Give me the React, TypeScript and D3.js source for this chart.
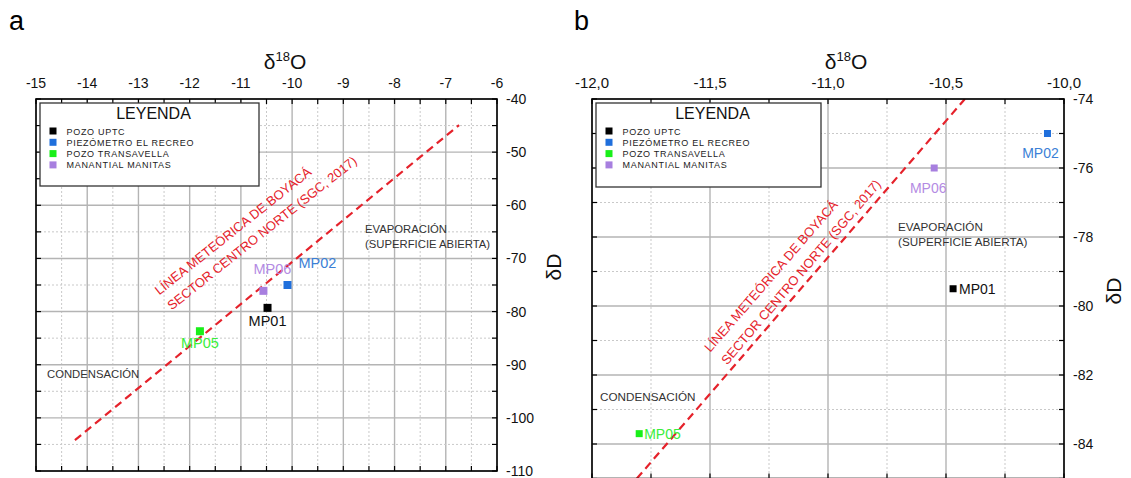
import React from "react";
import * as d3 from "d3";

// ---------- data ----------
const legendNames = ["POZO UPTC", "PIEZÓMETRO EL RECREO", "POZO TRANSAVELLA", "MANANTIAL MANITAS"];
const sampleIds = ["MP01", "MP02", "MP05", "MP06"];
const seriesColors = ["#000000", "#1f6fdc", "#19ef19", "#a77fdf"];
const sampleLegendIndex = [0, 1, 2, 3];

const panelA_d18O = [-10.48, -10.09, -11.8, -10.56];
const panelA_dD = [-79.3, -75.0, -83.7, -76.1];
const panelB_d18O = [-10.47, -10.07, -11.8, -10.55];
const panelB_dD = [-79.5, -75.0, -83.7, -76.0];

const panelA_xTicks = [-15, -14, -13, -12, -11, -10, -9, -8, -7, -6];
const panelA_yTicks = [-40, -50, -60, -70, -80, -90, -100, -110];
const panelB_xTicks = [-12, -11.5, -11, -10.5, -10];
const panelB_yTicks = [-74, -76, -78, -80, -82, -84];

const meteoricA_d18O = [-14.24, -6.74];
const meteoricA_dD = [-104.2, -44.9];
const meteoricB_d18O = [-11.81, -10.42];
const meteoricB_dD = [-85.0, -74.0];

const lineText1 = "LÍNEA METEÓRICA DE BOYACÁ";
const lineText2 = "SECTOR CENTRO NORTE (SGC, 2017)";

const FONT = "'Liberation Sans', Arial, Helvetica, sans-serif";
const RED = "#e5222b";

type Off = { dx: number; dy: number; anchor: string; color: string };

type PanelCfg = {
  id: string;
  letter: string;
  letterX: number;
  left: number; right: number; top: number; bottom: number;
  xDomain: [number, number]; yDomain: [number, number];
  xTicks: number[]; yTicks: number[];
  xMajor: number; xMinor: number; yMajor: number; yMinor: number;
  xFmt: (v: number) => string;
  xTickFont: number; yTickFont: number;
  d18O: number[]; dD: number[];
  mlX: number[]; mlY: number[];
  offsets: Off[];
  sampleFont: number;
  sqSize: number;
  legend: { x: number; y: number; w: number; h: number };
  titleX: number;
  dDx: number; dDy: number;
  t1: { x: number; y: number; a: number };
  t2: { x: number; y: number; a: number };
  evap: { x: number; y: number; fs: number };
  cond: { x: number; y: number; fs: number };
};

const commaFmt = (v: number) => d3.format(".1f")(v).replace(".", ",").replace("−", "-");
const intFmt = (v: number) => String(v);

const panels: PanelCfg[] = [
  {
    id: "a", letter: "a", letterX: 9,
    left: 36, right: 497, top: 99, bottom: 471,
    xDomain: [-15, -6], yDomain: [-40, -110],
    xTicks: panelA_xTicks, yTicks: panelA_yTicks,
    xMajor: 1, xMinor: 0.5, yMajor: 10, yMinor: 5,
    xFmt: intFmt, xTickFont: 14, yTickFont: 14,
    d18O: panelA_d18O, dD: panelA_dD,
    mlX: meteoricA_d18O, mlY: meteoricA_dD,
    offsets: [
      { dx: 0, dy: 18, anchor: "middle", color: "#111" },
      { dx: 11, dy: -17, anchor: "start", color: "#3b7fd6" },
      { dx: 0, dy: 17, anchor: "middle", color: "#3aee3a" },
      { dx: 9, dy: -17, anchor: "middle", color: "#b48be3" },
    ],
    sampleFont: 14.5, sqSize: 8,
    legend: { x: 40, y: 103, w: 219, h: 83 },
    titleX: 285, dDx: 553, dDy: 267,
    t1: { x: 233, y: 231, a: -38.5 },
    t2: { x: 262, y: 233, a: -38.5 },
    evap: { x: 365, y: 233, fs: 11.3 },
    cond: { x: 47, y: 378, fs: 11.3 },
  },
  {
    id: "b", letter: "b", letterX: 574,
    left: 592, right: 1064, top: 99, bottom: 478.5,
    xDomain: [-12, -10], yDomain: [-74, -85],
    xTicks: panelB_xTicks, yTicks: panelB_yTicks,
    xMajor: 0.5, xMinor: 0.25, yMajor: 2, yMinor: 1,
    xFmt: commaFmt, xTickFont: 15, yTickFont: 14,
    d18O: panelB_d18O, dD: panelB_dD,
    mlX: meteoricB_d18O, mlY: meteoricB_dD,
    offsets: [
      { dx: 6, dy: 5, anchor: "start", color: "#111" },
      { dx: -7, dy: 24, anchor: "middle", color: "#3b7fd6" },
      { dx: 5, dy: 5, anchor: "start", color: "#3aee3a" },
      { dx: -6, dy: 25, anchor: "middle", color: "#b48be3" },
    ],
    sampleFont: 14, sqSize: 7,
    legend: { x: 596, y: 103, w: 225, h: 84 },
    titleX: 846, dDx: 1113, dDy: 291,
    t1: { x: 771, y: 276, a: -49 },
    t2: { x: 801, y: 272, a: -49.5 },
    evap: { x: 898, y: 231, fs: 11.7 },
    cond: { x: 600, y: 401, fs: 11.7 },
  },
];

function rangeSteps(a: number, b: number, step: number) {
  const lo = Math.min(a, b), hi = Math.max(a, b);
  const n = Math.round((hi - lo) / step);
  return d3.range(n + 1).map((i) => +(lo + i * step).toFixed(4));
}

function Panel({ c }: { c: PanelCfg }) {
  const x = d3.scaleLinear().domain(c.xDomain).range([c.left, c.right]);
  const y = d3.scaleLinear().domain(c.yDomain).range([c.top, c.bottom]);
  const xMin = rangeSteps(c.xDomain[0], c.xDomain[1], c.xMinor);
  const yMin = rangeSteps(c.yDomain[0], c.yDomain[1], c.yMinor);
  const isMajor = (v: number, step: number) => Math.abs(v / step - Math.round(v / step)) < 1e-6;
  const line = d3.line<number>().x((_, i) => x(c.mlX[i])).y((_, i) => y(c.mlY[i]));
  const clipId = "clip-" + c.id;
  const tl = 5;
  const lg = c.legend;
  const evapLines = ["EVAPORACIÓN", "(SUPERFICIE ABIERTA)"];
  return (
    <g>
      <defs>
        <clipPath id={clipId}>
          <rect x={c.left} y={c.top} width={c.right - c.left} height={c.bottom - c.top} />
        </clipPath>
      </defs>
      <text x={c.letterX} y={30} fontSize={27} fontFamily={FONT} fill="#000">{c.letter}</text>
      <rect x={c.left} y={c.top} width={c.right - c.left} height={c.bottom - c.top} fill="#fff" />
      {/* grid */}
      {xMin.map((v) =>
        isMajor(v, c.xMajor) ? (
          <line key={"gx" + v} x1={x(v)} x2={x(v)} y1={c.top} y2={c.bottom} stroke="#b4b4b4" strokeWidth={1.4} />
        ) : (
          <line key={"gx" + v} x1={x(v)} x2={x(v)} y1={c.top} y2={c.bottom} stroke="#c9c9c9" strokeWidth={1} strokeDasharray="2,2" />
        )
      )}
      {yMin.map((v) =>
        isMajor(v, c.yMajor) ? (
          <line key={"gy" + v} x1={c.left} x2={c.right} y1={y(v)} y2={y(v)} stroke="#b4b4b4" strokeWidth={1.4} />
        ) : (
          <line key={"gy" + v} x1={c.left} x2={c.right} y1={y(v)} y2={y(v)} stroke="#c9c9c9" strokeWidth={1} strokeDasharray="2,2" />
        )
      )}
      {/* ticks inward */}
      {xMin.map((v) => (
        <g key={"tx" + v}>
          <line x1={x(v)} x2={x(v)} y1={c.top} y2={c.top + tl} stroke="#000" strokeWidth={1.2} />
          <line x1={x(v)} x2={x(v)} y1={c.bottom} y2={c.bottom - tl} stroke="#000" strokeWidth={1.2} />
        </g>
      ))}
      {yMin.map((v) => (
        <g key={"ty" + v}>
          <line x1={c.left} x2={c.left + tl} y1={y(v)} y2={y(v)} stroke="#000" strokeWidth={1.2} />
          <line x1={c.right} x2={c.right - tl} y1={y(v)} y2={y(v)} stroke="#000" strokeWidth={1.2} />
        </g>
      ))}
      {/* legend */}
      <rect x={lg.x} y={lg.y} width={lg.w} height={lg.h} fill="#fff" stroke="#333" strokeWidth={1.3} />
      <text x={lg.x + lg.w / 2 + 4} y={lg.y + 15.5} fontSize={16} fontFamily={FONT} textAnchor="middle" fill="#111">LEYENDA</text>
      {legendNames.map((n, i) => (
        <g key={n}>
          <rect x={lg.x + 9.5} y={lg.y + 24.5 + i * 11.3} width={7} height={7} fill={seriesColors[i]} />
          <text x={lg.x + 26.5} y={lg.y + 31.5 + i * 11.3} fontSize={9} letterSpacing={0.7} fontFamily={FONT} fill="#222">{n}</text>
        </g>
      ))}
      {/* meteoric line */}
      <path d={line([0, 1]) || ""} fill="none" stroke={RED} strokeWidth={2.2} strokeDasharray="8,5" clipPath={`url(#${clipId})`} />
      <text transform={`translate(${c.t1.x},${c.t1.y}) rotate(${c.t1.a})`} textAnchor="middle" dominantBaseline="central" fontSize={13} fontFamily={FONT} fill={RED}>{lineText1}</text>
      <text transform={`translate(${c.t2.x},${c.t2.y}) rotate(${c.t2.a})`} textAnchor="middle" dominantBaseline="central" fontSize={13} fontFamily={FONT} fill={RED}>{lineText2}</text>
      {/* annotations */}
      {evapLines.map((t, i) => (
        <text key={t} x={c.evap.x} y={c.evap.y + i * 15} fontSize={c.evap.fs} fontFamily={FONT} fill="#333">{t}</text>
      ))}
      <text x={c.cond.x} y={c.cond.y} fontSize={c.cond.fs} fontFamily={FONT} fill="#333">CONDENSACIÓN</text>
      {/* samples */}
      {sampleIds.map((s, i) => {
        const px = x(c.d18O[i]);
        const py = y(c.dD[i]);
        const o = c.offsets[i];
        return (
          <g key={s}>
            <rect x={px - c.sqSize / 2} y={py - c.sqSize / 2} width={c.sqSize} height={c.sqSize} fill={seriesColors[sampleLegendIndex[i]]} />
            <text x={px + o.dx} y={py + o.dy} textAnchor={o.anchor as any} fontSize={c.sampleFont} fontFamily={FONT} fill={o.color}>{s}</text>
          </g>
        );
      })}
      {/* frame */}
      <rect x={c.left} y={c.top} width={c.right - c.left} height={c.bottom - c.top} fill="none" stroke="#000" strokeWidth={1.6} />
      {/* tick labels */}
      {c.xTicks.map((v) => (
        <text key={"xl" + v} x={x(v)} y={88} fontSize={c.xTickFont} textAnchor="middle" fontFamily={FONT} fill="#111">{c.xFmt(v)}</text>
      ))}
      {c.yTicks.map((v) => (
        <text key={"yl" + v} x={c.right + 9} y={y(v)} dominantBaseline="central" fontSize={c.yTickFont} fontFamily={FONT} fill="#111">{intFmt(v)}</text>
      ))}
      {/* axis titles */}
      <text x={c.titleX} y={69} textAnchor="middle" fontSize={21} fontFamily={FONT} fill="#111">
        δ<tspan fontSize={13} dy={-8}>18</tspan><tspan dy={8}>O</tspan>
      </text>
      <text transform={`translate(${c.dDx},${c.dDy}) rotate(-90)`} textAnchor="middle" dominantBaseline="central" fontSize={21} fontFamily={FONT} fill="#111">δD</text>
    </g>
  );
}

export default function App() {
  return (
    <svg width={1131} height={478} style={{ position: "absolute", left: 0, top: 0, background: "#fff" }}>
      <rect width={1131} height={478} fill="#fff" />
      {panels.map((p) => (
        <Panel key={p.id} c={p} />
      ))}
    </svg>
  );
}
